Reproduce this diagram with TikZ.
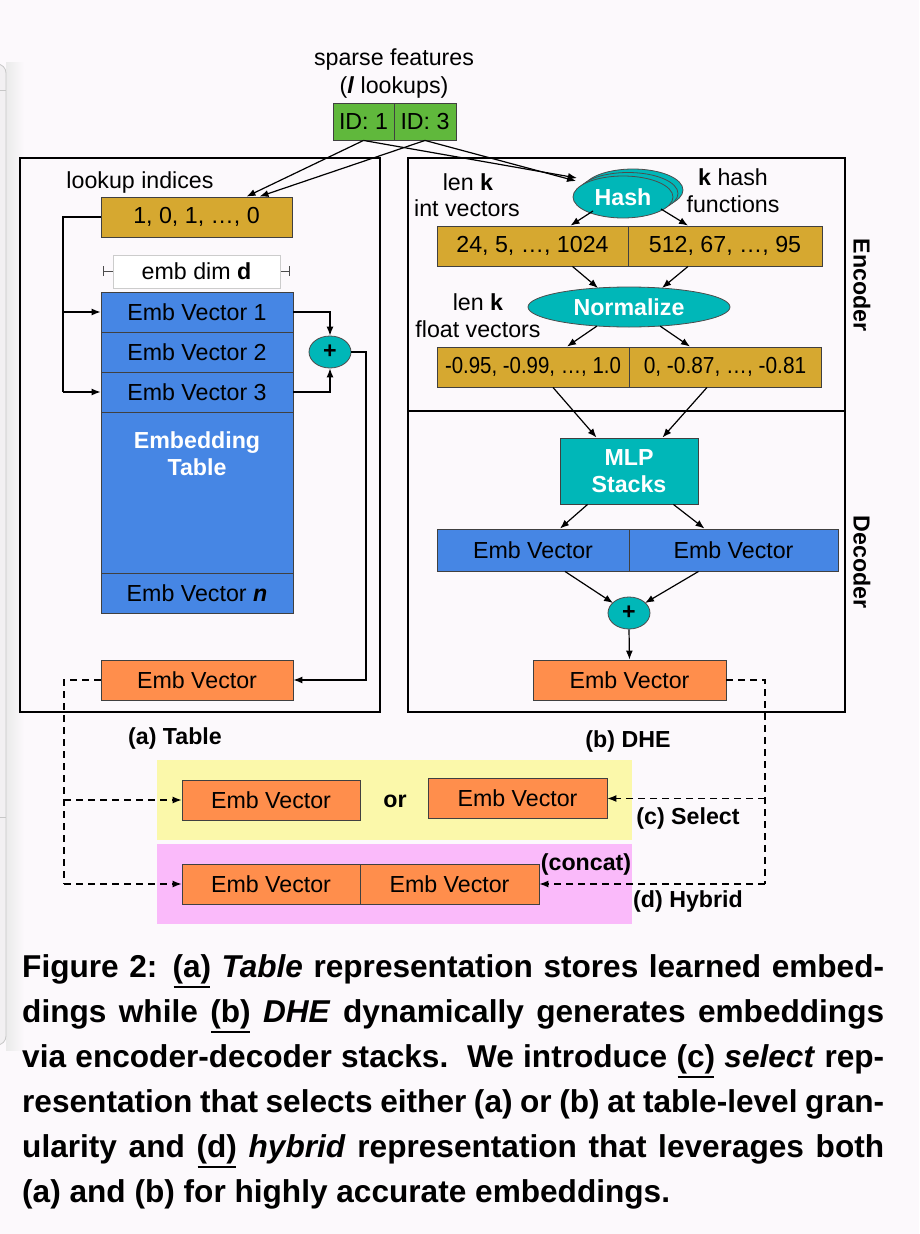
\documentclass[tikz,border=0pt]{standalone}
\usepackage{fontspec}
\setmainfont{Liberation Sans}
\usetikzlibrary{arrows.meta,shapes.geometric,calc}
\definecolor{bgc}{RGB}{252,249,252}
\definecolor{greenc}{RGB}{96,184,60}
\definecolor{goldc}{RGB}{214,168,48}
\definecolor{bluec}{RGB}{70,134,228}
\definecolor{tealc}{RGB}{0,183,184}
\definecolor{orangec}{RGB}{255,142,76}
\definecolor{yellowc}{RGB}{251,248,170}
\definecolor{pinkc}{RGB}{250,186,250}
\definecolor{winc}{RGB}{242,240,242}
\newcommand\dfs{\fontsize{23.2}{27}\selectfont}
\newcommand\cfs{\fontsize{31.6}{36}\selectfont}
\newcommand\capul[1]{\setbox0=\hbox{#1}\rlap{\kern1pt\rule[-11pt]{\dimexpr\wd0-2pt\relax}{1.6pt}}\box0\relax}
\tikzset{
 box/.style={draw=black!75, line width=0.9pt, inner sep=0pt, font=\dfs, minimum height=40pt},
 arr/.style={-{Latex[length=9pt,width=7pt]}, line width=1.2pt},
 dsh/.style={dash pattern=on 7pt off 5pt, line width=1.2pt},
 ell/.style={ellipse, draw=black!70, line width=0.8pt, fill=tealc, inner sep=0pt, font=\dfs\bfseries, text=white},
 lbl/.style={font=\dfs, inner sep=0pt},
 blbl/.style={font=\dfs\bfseries, inner sep=0pt},
 panel/.style={draw=black, line width=1.5pt, inner sep=0pt},
 capline/.style={anchor=base west, inner sep=0pt, font=\cfs\bfseries},
}
\begin{document}
\begin{tikzpicture}[x=1pt,y=-1pt]
\useasboundingbox (0,0) rectangle (919,1234);
\fill[bgc] (0,0) rectangle (919,1234);
% window edge
\shade[left color=black!8, right color=bgc] (6,62) rectangle (24,1050);
\draw[fill=winc, draw=black!22, rounded corners=9pt, line width=0.8pt] (-20,64) rectangle (6,1045);
\draw[black!22, line width=0.8pt] (0,90) -- (6,90) (0,817) -- (6,817);

% top
\node[lbl] (sf) at (394,60) {sparse features};
\node[lbl] (ll) at (394,88) {(\textbf{\textit{l}} lookups)};
\node[box, fill=greenc, minimum width=61pt, minimum height=37pt] (id1) at (363.5,121.5) {ID: 1};
\node[box, fill=greenc, minimum width=62pt, minimum height=37pt] (id3) at (425,121.5) {ID: 3};

% panels
\node[panel, minimum width=360pt, minimum height=554pt] (pa) at (200,435) {};
\node[panel, minimum width=437pt, minimum height=554pt] (pb) at (626.5,435) {};
\coordinate (dvl) at (408,411);
\coordinate (dvr) at (845,411);
\draw[line width=1.5pt] (dvl) -- (dvr);
\node[blbl, rotate=-90] (enc) at (862,285) {Encoder};
\node[blbl, rotate=-90] (dec) at (862,562) {Decoder};

% (a) table
\node[lbl] (lil) at (140,182) {lookup indices};
\node[box, fill=goldc, minimum width=191pt] (lk) at (196.5,217) {1, 0, 1, \dots, 0};
\coordinate (dimL) at (103,271);
\coordinate (dimR) at (290,271);
\draw[{Bar[width=10pt]}-{Bar[width=10pt]}, black!70, line width=0.8pt] (dimL) -- (dimR);
\node[draw=black!20, fill=white, line width=0.8pt, font=\dfs, minimum width=167pt, minimum height=33pt, inner sep=0pt] (dim) at (196.5,271.5) {emb dim \textbf{d}};
\node[box, fill=bluec, minimum width=192pt] (ev1) at (197,312) {Emb Vector 1};
\node[box, fill=bluec, minimum width=192pt] (ev2) at (197,352) {Emb Vector 2};
\node[box, fill=bluec, minimum width=192pt] (ev3) at (197,392) {Emb Vector 3};
\node[box, fill=bluec, minimum width=192pt, minimum height=161pt] (big) at (197,492.5) {};
\node[font=\dfs\bfseries, text=white, align=center, inner sep=0pt] (etl) at (197,454) {Embedding\\[0pt]Table};
\node[box, fill=bluec, minimum width=192pt] (evn) at (197,593) {Emb Vector \textbf{\textit{n}}};
\node[ell, minimum width=42pt, minimum height=32pt, text=black] (p1) at (330,352) {+};
\node[box, fill=orangec, minimum width=192pt] (outa) at (197,680) {Emb Vector};
\coordinate (lfb) at (63,217);
\coordinate (lfb3) at (63,392);
\coordinate (rfb) at (366,352);
\draw[line width=1.2pt] (lk.west) -- (lfb) -- (lfb3);
\draw[arr] (lfb |- ev1.west) -- (ev1.west);
\draw[arr] (lfb3) -- (ev3.west);
\draw[arr] (ev1.east) -| (p1.north);
\draw[arr] (ev3.east) -| (p1.south);
\draw[arr] (p1.east) -- (rfb) |- (outa.east);
\node[blbl] (capa) at (175,738) {(a) Table};

% (b) DHE
\node[ell, minimum width=100pt, minimum height=42pt] (h3) at (633,190) {};
\node[ell, minimum width=100pt, minimum height=42pt] (h2) at (628,193.5) {};
\node[ell, minimum width=100pt, minimum height=42pt] (hash) at (623,197) {Hash};
\node[lbl] (lk1) at (468,182) {len \textbf{k}};
\node[lbl] (iv) at (467,208) {int vectors};
\node[lbl] (kh) at (733,177) {\textbf{k} hash};
\node[lbl] (fn) at (733,204) {functions};
\node[box, fill=goldc, minimum width=191pt] (iv1) at (532.5,246) {24, 5, \dots, 1024};
\node[box, fill=goldc, minimum width=194pt] (iv2) at (725,246) {512, 67, \dots, 95};
\node[ell, minimum width=202pt, minimum height=40pt] (norm) at (629,307) {Normalize};
\node[lbl] (lk2) at (478,302) {len \textbf{k}};
\node[lbl] (fvl) at (478,329) {float vectors};
\node[box, fill=goldc, minimum width=192pt] (fv1) at (533,367) {\scalebox{0.88}[1]{-0.95, -0.99, \dots, 1.0}};
\node[box, fill=goldc, minimum width=192pt] (fv2) at (725,367) {\scalebox{0.9}[1]{0, -0.87, \dots, -0.81}};
\node[box, fill=tealc, minimum width=138pt, minimum height=66pt, font=\dfs\bfseries, text=white, align=center] (mlp) at (629,471) {MLP\\[0pt]Stacks};
\node[box, fill=bluec, minimum width=192pt, minimum height=42pt] (de1) at (533,550) {Emb Vector};
\node[box, fill=bluec, minimum width=209pt, minimum height=42pt] (de2) at (733.5,550) {Emb Vector};
\node[ell, minimum width=42pt, minimum height=32pt, text=black] (p2) at (629,613) {+};
\node[box, fill=orangec, minimum width=193pt] (outb) at (629.5,680) {Emb Vector};
\node[blbl] (capb) at (628,741) {(b) DHE};

% top arrows
\draw[arr] (id1.south) -- ($(lk.north)+(50,0)$);
\draw[arr] (id3.south) -- ($(lk.north)+(63,0)$);
\draw[arr] (id1.south) -- ($(hash)+(-46,-19)$);
\draw[arr] (id3.south) -- ($(hash)+(-47,-16)$);
% DHE arrows
\draw[arr] ($(hash)+(-30,14)$) -- ($(iv1.north)+(38,0)$);
\draw[arr] ($(hash)+(38,12)$) -- ($(iv2.north)+(-37,0)$);
\draw[arr] ($(iv1.south)+(40,0)$) -- ($(norm)+(-31,-19)$);
\draw[arr] ($(iv2.south)+(-37,0)$) -- ($(norm)+(33,-19)$);
\draw[arr] ($(norm)+(-32,19)$) -- ($(fv1.north)+(34,0)$);
\draw[arr] ($(norm)+(31,19)$) -- ($(fv2.north)+(-35,0)$);
\draw[arr] ($(fv1.south)+(20,0)$) -- ($(mlp.north west)+(37,0)$);
\draw[arr] ($(fv2.south)+(-18,0)$) -- ($(mlp.north east)+(-36,0)$);
\draw[arr] ($(mlp.south west)+(28,0)$) -- ($(de1.north)+(27,0)$);
\draw[arr] ($(mlp.south east)+(-25,0)$) -- ($(de2.north)+(-29,0)$);
\draw[arr] ($(de1.south)+(32,0)$) -- ($(p2)+(-16,-10)$);
\draw[arr] ($(de2.south)+(-35,0)$) -- ($(p2)+(16,-10)$);
\draw[arr] (p2.south) -- (outb.north);

% (c) select, (d) hybrid
\fill[yellowc] (157,760) rectangle (632,840);
\fill[pinkc] (157,844) rectangle (632,924);
\node[box, fill=orangec, minimum width=178pt] (selL) at (271,800) {Emb Vector};
\node[box, fill=orangec, minimum width=179pt] (selR) at (517.5,798.5) {Emb Vector};
\node[blbl] (or) at (395,801) {or};
\node[blbl] (capc) at (688,818) {(c) Select};
\node[box, fill=orangec, minimum width=178pt] (hy1) at (271,884) {Emb Vector};
\node[box, fill=orangec, minimum width=179pt] (hy2) at (449.5,884) {Emb Vector};
\node[blbl] (cc) at (586,864) {(concat)};
\node[blbl] (capd) at (688,901) {(d) Hybrid};
\coordinate (ld) at (64,680);
\coordinate (rd) at (765,680);
\draw[dsh] (outa.west) -- (ld) -- (ld |- hy1.west);
\draw[dsh, arr] (ld |- hy1.west) -- (hy1.west);
\draw[dsh, arr] (ld |- selL.west) -- (selL.west);
\draw[dsh] (outb.east) -- (rd) -- (rd |- hy2.east);
\draw[dsh, arr] (rd |- hy2.east) -- (hy2.east);
\draw[dsh, arr] (rd |- selR.east) -- (selR.east);

% caption
\node[capline] (c1) at (22,977) {\makebox[862pt][s]{Figure 2: \capul{(a)} \textit{Table} representation stores learned embed-}};
\node[capline] (c2) at (22,1022) {\makebox[862pt][s]{dings while \capul{(b)} \textit{DHE} dynamically generates embeddings}};
\node[capline] (c3) at (22,1067) {\makebox[862pt][s]{via encoder-decoder stacks.\ \ We introduce \capul{(c)} \textit{select} rep-}};
\node[capline] (c4) at (22,1112) {\makebox[862pt][s]{resentation that selects either (a) or (b) at table-level gran-}};
\node[capline] (c5) at (22,1157) {\makebox[862pt][s]{ularity and \capul{(d)} \textit{hybrid} representation that leverages both}};
\node[capline] (c6) at (22,1202) {(a) and (b) for highly accurate embeddings.};
\end{tikzpicture}
\end{document}
